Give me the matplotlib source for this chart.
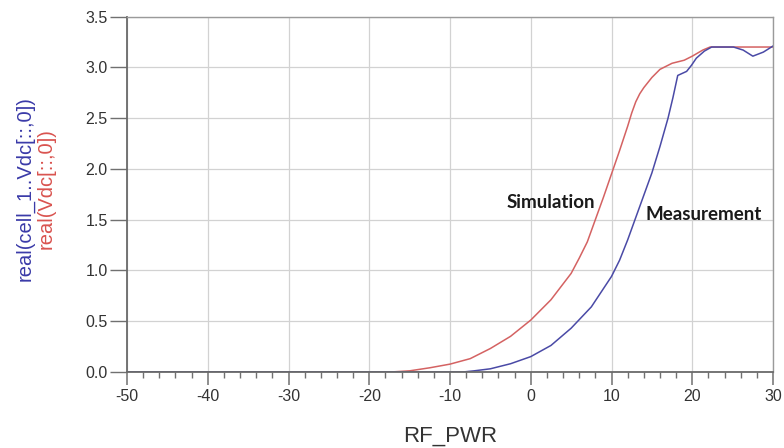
import matplotlib
matplotlib.use("Agg")
import matplotlib.pyplot as plt
from matplotlib.ticker import MultipleLocator

sim_x = [-50, -17, -15, -12.5, -10, -7.5, -5, -2.5, 0, 2.5, 5, 6, 7, 8, 9, 10,
         11, 12, 12.5, 13, 13.5, 14, 15, 16, 17.5, 19, 20, 21.3, 22.2, 30]
sim_y = [0, 0, 0.01, 0.04, 0.076, 0.13, 0.23, 0.35, 0.51, 0.71, 0.97, 1.12, 1.28,
         1.50, 1.72, 1.95, 2.18, 2.42, 2.55, 2.66, 2.74, 2.80, 2.90, 2.98, 3.04,
         3.07, 3.11, 3.17, 3.20, 3.20]

meas_x = [-50, -8.2, -7, -5, -2.5, 0, 2.5, 5, 7.5, 10, 11, 12, 13, 14, 15, 16,
          17, 17.6, 18.2, 19.3, 19.9, 20.5, 21.5, 22.4, 25.1, 26.3, 27.5, 28.8, 30]
meas_y = [0, 0, 0.01, 0.03, 0.08, 0.15, 0.26, 0.43, 0.64, 0.94, 1.10, 1.30, 1.52,
          1.74, 1.96, 2.22, 2.50, 2.70, 2.92, 2.96, 3.02, 3.09, 3.16, 3.20, 3.20,
          3.17, 3.11, 3.15, 3.21]

x_ticks = [-50, -40, -30, -20, -10, 0, 10, 20, 30]
y_ticks = [0.0, 0.5, 1.0, 1.5, 2.0, 2.5, 3.0, 3.5]

RED = "#d46262"
BLUE = "#4a4aa6"

plt.rcParams["font.family"] = ["Liberation Sans", "DejaVu Sans"]
plt.rcParams["axes.unicode_minus"] = False

fig = plt.figure(figsize=(7.84, 4.48), dpi=100)
ax = fig.add_axes([0.162, 0.170, 0.824, 0.793])

ax.plot(sim_x, sim_y, color=RED, linewidth=1.1)
ax.plot(meas_x, meas_y, color=BLUE, linewidth=1.1)

ax.set_xlim(-50, 30)
ax.set_ylim(0, 3.5)
ax.set_xticks(x_ticks)
ax.set_yticks(y_ticks)
ax.set_yticklabels([f"{v:.1f}" for v in y_ticks])
ax.xaxis.set_minor_locator(MultipleLocator(2))

ax.grid(True, color="#d2d2d2", linewidth=0.9)
ax.set_axisbelow(True)

ax.tick_params(axis="x", which="major", length=9, width=1.1, color="#707070",
               labelsize=11.5, pad=3.5, labelcolor="#333333")
ax.tick_params(axis="x", which="minor", length=4.5, width=1.0, color="#707070")
ax.tick_params(axis="y", which="major", length=12, width=1.0, color="#707070",
               labelsize=11.5, pad=2, labelcolor="#333333")

for side in ["left", "bottom"]:
    ax.spines[side].set_color("#6a6a6a")
    ax.spines[side].set_linewidth(1.3)
for side in ["top", "right"]:
    ax.spines[side].set_color("#9a9a9a")
    ax.spines[side].set_linewidth(1.0)

ax.text(-3.0, 1.67, "Simulation", fontfamily="Lato", fontweight="bold",
        fontsize=13.5, va="center", ha="left", color="#1a1a1a")
ax.text(14.25, 1.555, "Measurement", fontfamily="Lato", fontweight="bold",
        fontsize=13.5, va="center", ha="left", color="#1a1a1a")

fig.text(0.574, 0.027, "RF_PWR", fontsize=16, ha="center", va="center",
         color="#333333")
fig.text(25 / 784, 0.58, "real(cell_1..Vdc[::,0])", rotation=90, fontsize=14.5,
         ha="center", va="center", color="#3a3aa8")
fig.text(46 / 784, 0.58, "real(Vdc[::,0])", rotation=90, fontsize=14.5,
         ha="center", va="center", color="#d9534f")

fig.savefig("out.png", dpi=100)
